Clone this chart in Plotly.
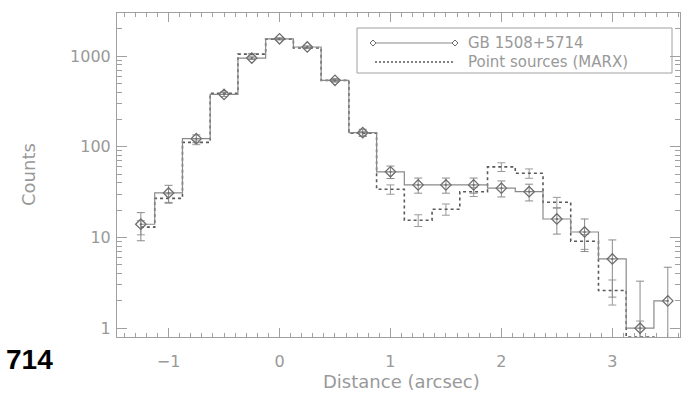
import plotly.graph_objects as go

# Radial profile bins (arcsec) and counts
distance = [-1.25, -1.0, -0.75, -0.5, -0.25, 0.0, 0.25, 0.5, 0.75, 1.0,
            1.25, 1.5, 1.75, 2.0, 2.25, 2.5, 2.75, 3.0, 3.25, 3.5]

counts_gb = [14, 31, 123, 378, 950, 1550, 1260, 540, 143, 53,
             38, 38, 38, 35, 32, 16, 11.5, 5.8, 1, 2]
err_gb = [4.8, 6.6, 12.1, 20.5, 31.8, 40.4, 36.5, 24.3, 13.0, 8.3,
          7.2, 7.2, 7.2, 7.0, 6.7, 5.1, 4.5, 3.6, 2.3, 2.7]

counts_marx = [13, 27, 112, 390, 1050, 1540, 1230, 540, 141, 34,
               15.5, 20.5, 32, 60, 51, 24.5, 9.1, 2.6, 0.8, 0.5]
err_marx = [2.3, 3.2, 6.5, 12, 20, 24, 22, 14, 7, 4,
            2.3, 2.9, 3.7, 6.6, 6.0, 3.2, 1.7, 0.8, 0.4, 0]

legend_labels = ["GB 1508+5714", "Point sources (MARX)"]
x_tickvals = [-1, 0, 1, 2, 3]
y_tickvals = [1, 10, 100, 1000]
y_ticktext = ["1", "10", "100", "1000"]

AXIS_GREY = "#a0a0a0"
TEXT_GREY = "#999999"
FONT = "DejaVu Sans"

fig = go.Figure()

fig.add_trace(go.Scatter(
    x=distance, y=counts_marx, mode="lines", line_shape="hvh",
    line=dict(color="#5a5a5a", width=1.6, dash="3px,3px"),
    error_y=dict(type="data", array=err_marx, color="#9a9a9a", thickness=1, width=4),
    showlegend=False,
))

fig.add_trace(go.Scatter(
    x=distance, y=counts_gb, mode="lines+markers", line_shape="hvh",
    line=dict(color="#8a8a8a", width=1.2),
    marker=dict(symbol="diamond-open-dot", size=8, color="#6e6e6e",
                line=dict(width=1.3, color="#6e6e6e")),
    error_y=dict(type="data", array=err_gb, color="#8a8a8a", thickness=1, width=4),
    showlegend=False,
))

# Plot area in pixels
L, R, T, B = 117, 680, 13, 337
W, H = 695, 395
pw, ph = R - L, B - T


def px(xp):
    return (xp - L) / pw


def py(yp):
    return 1 - (yp - T) / ph


shapes = []
annotations = []

# Legend box
shapes.append(dict(type="rect", xref="paper", yref="paper",
                   x0=px(357), x1=px(672), y0=py(73), y1=py(28),
                   line=dict(color=AXIS_GREY, width=1)))
# Legend row 1: solid line with diamonds at both ends
shapes.append(dict(type="line", xref="paper", yref="paper",
                   x0=px(373), x1=px(455), y0=py(43), y1=py(43),
                   line=dict(color="#8a8a8a", width=1.2)))
for xe in (373, 455):
    shapes.append(dict(type="path", xref="paper", yref="paper",
                       xsizemode="pixel", ysizemode="pixel",
                       xanchor=px(xe), yanchor=py(43),
                       path="M 0 -3 L 3 0 L 0 3 L -3 0 Z",
                       fillcolor="white", line=dict(color="#6e6e6e", width=1)))
# Legend row 2: dotted line
shapes.append(dict(type="line", xref="paper", yref="paper",
                   x0=px(375), x1=px(455), y0=py(62), y1=py(62),
                   line=dict(color="#5a5a5a", width=1.4, dash="2px,2px")))

for label, yrow in zip(legend_labels, (43, 62)):
    annotations.append(dict(text=label, xref="paper", yref="paper",
                            x=px(466), y=py(yrow), xanchor="left", yanchor="middle",
                            showarrow=False,
                            font=dict(family=FONT, size=15, color=TEXT_GREY)))

# Axis titles
annotations.append(dict(text="Distance (arcsec)", xref="paper", yref="paper",
                        x=px(401), y=py(381), xanchor="center", yanchor="middle",
                        showarrow=False,
                        font=dict(family=FONT, size=18, color=TEXT_GREY)))
annotations.append(dict(text="Counts", xref="paper", yref="paper",
                        x=px(28), y=py(175), xanchor="center", yanchor="middle",
                        textangle=-90, showarrow=False,
                        font=dict(family=FONT, size=18, color=TEXT_GREY)))

# Caption fragment at lower left
annotations.append(dict(text="<b>714</b>", xref="paper", yref="paper",
                        x=px(55), y=py(359), xanchor="right", yanchor="middle",
                        showarrow=False,
                        font=dict(family="Liberation Sans", size=28, color="black")))

fig.update_layout(
    width=W, height=H,
    margin=dict(l=L, r=W - R, t=T, b=H - B, pad=0),
    paper_bgcolor="white", plot_bgcolor="white",
    showlegend=False,
    shapes=shapes, annotations=annotations,
    font=dict(family=FONT, color=TEXT_GREY),
)

fig.update_xaxes(
    range=[-1.465, 3.61], showgrid=False, zeroline=False,
    showline=True, linecolor=AXIS_GREY, linewidth=1, mirror="allticks",
    ticks="inside", ticklen=9, tickcolor=AXIS_GREY, tickwidth=1,
    tickvals=x_tickvals, ticktext=["\u22121", "0", "1", "2", "3"],
    tickfont=dict(family=FONT, size=16, color=TEXT_GREY),
    ticklabelstandoff=10,
    minor=dict(ticks="inside", ticklen=4, tickcolor=AXIS_GREY, dtick=0.1),
)

fig.update_yaxes(
    type="log", range=[-0.097, 3.475], showgrid=False, zeroline=False,
    showline=True, linecolor=AXIS_GREY, linewidth=1, mirror="allticks",
    ticks="inside", ticklen=10, tickcolor=AXIS_GREY, tickwidth=1,
    tickvals=y_tickvals, ticktext=y_ticktext,
    tickfont=dict(family=FONT, size=16, color=TEXT_GREY),
    ticklabelstandoff=2,
    minor=dict(ticks="inside", ticklen=5, tickcolor=AXIS_GREY,
               tickvals=[m * 10 ** e for e in range(0, 4) for m in range(2, 10)]),
)

fig.write_html("out.html")
